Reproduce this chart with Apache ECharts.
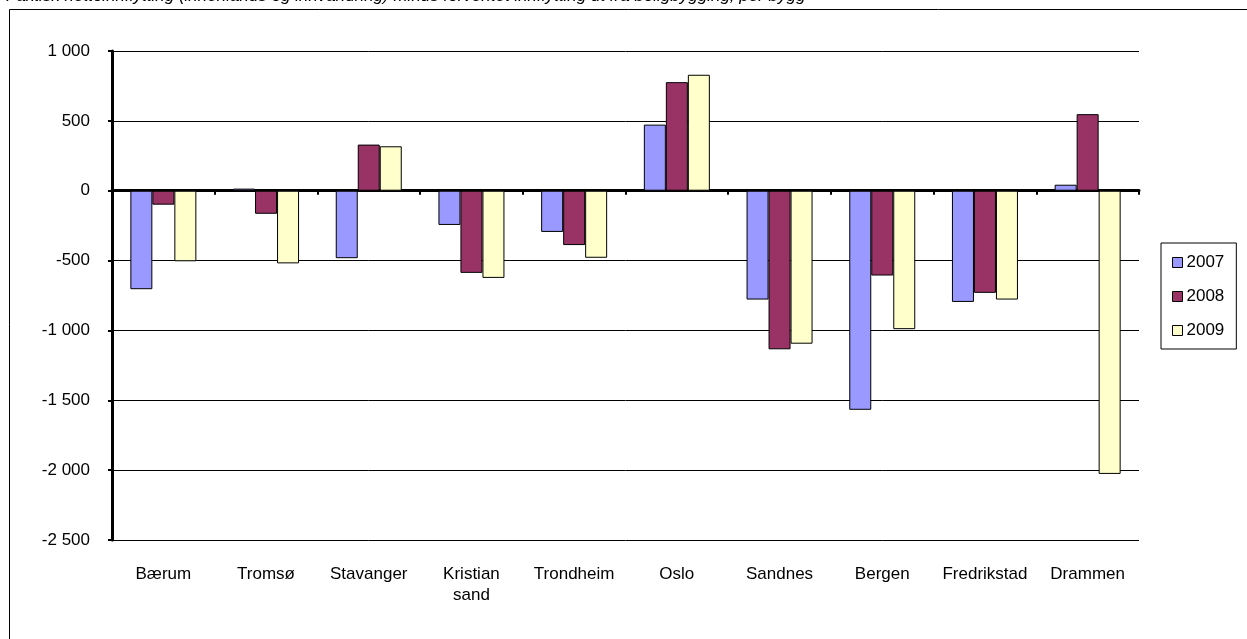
<!DOCTYPE html>
<html>
<head>
<meta charset="utf-8">
<script src="https://cdn.jsdelivr.net/npm/echarts@6/dist/echarts.min.js"></script>
<style>
html,body{margin:0;padding:0;background:#fff;}
#chart{width:1247px;height:639px;}
</style>
</head>
<body>
<div id="chart"></div>
<script>
const categories = ['Bærum','Tromsø','Stavanger','Kristian\nsand','Trondheim','Oslo','Sandnes','Bergen','Fredrikstad','Drammen'];
const seriesNames = ['2007','2008','2009'];
const values2007 = [-705, 15, -483, -245, -295, 473, -779, -1568, -796, 43];
const values2008 = [-100, -165, 330, -588, -389, 777, -1135, -607, -731, 548];
const values2009 = [-505, -520, 318, -624, -480, 830, -1095, -991, -779, -2027];
const seriesColors = ['#9999FF', '#993366', '#FFFFCC'];
const yTicks = { min: -2500, max: 1000, interval: 500 };
const clippedTitle = 'Faktisk nettoinnflytting (innenlands og innvandring) minus forventet innflytting ut fra boligbygging, per bygg';

const fmt = v => {
  const s = Math.abs(v).toString();
  const t = s.length > 3 ? s.slice(0, s.length - 3) + ' ' + s.slice(-3) : s;
  return (v < 0 ? '-' : '') + t;
};

const font = "'Liberation Sans', Arial, sans-serif";
const chart = echarts.init(document.getElementById('chart'));
const allValues = [values2007, values2008, values2009];

chart.setOption({
  animation: false,
  backgroundColor: '#fff',
  textStyle: { fontFamily: font },
  graphic: [
    { type: 'rect', shape: { x: 9.5, y: 9.5, width: 1400, height: 800 }, style: { fill: 'none', stroke: '#000', lineWidth: 1 }, z: -1 },
    { type: 'text', left: 6, top: -12, style: { text: clippedTitle, font: 'italic 17px ' + font, fill: '#000' } }
  ],
  grid: { left: 112, right: 108, top: 51, bottom: 99, containLabel: false },
  legend: {
    orient: 'vertical',
    left: 1161,
    top: 243,
    padding: [11, 12, 10, 11],
    itemGap: 17,
    itemWidth: 10,
    itemHeight: 10,
    borderColor: '#000',
    borderWidth: 1,
    icon: 'rect',
    itemStyle: { borderColor: '#000', borderWidth: 1 },
    textStyle: { fontSize: 17, color: '#000', fontFamily: font, padding: [0, 0, 0, -1] },
    data: seriesNames
  },
  xAxis: [
    {
      type: 'category',
      data: categories,
      axisLine: { onZero: true, lineStyle: { color: '#000', width: 3 } },
      axisTick: { show: true, length: 4, lineStyle: { color: '#000', width: 2 } },
      axisLabel: { show: false },
      splitLine: { show: false }
    },
    {
      type: 'category',
      data: categories,
      position: 'bottom',
      axisLine: { show: false, onZero: false },
      axisTick: { show: false },
      axisLabel: { show: true, interval: 0, margin: 24, fontSize: 17, color: '#000', fontFamily: font, lineHeight: 21 },
      splitLine: { show: false }
    }
  ],
  yAxis: {
    type: 'value',
    min: yTicks.min,
    max: yTicks.max,
    interval: yTicks.interval,
    axisLine: { show: true, lineStyle: { color: '#000', width: 3 } },
    axisTick: { show: true, length: 4, lineStyle: { color: '#000', width: 2 } },
    axisLabel: { formatter: fmt, fontSize: 17, color: '#000', margin: 22, fontFamily: font },
    splitLine: { show: true, lineStyle: { color: '#000', width: 1 } }
  },
  series: seriesNames.map((name, i) => ({
    name: name,
    type: 'bar',
    xAxisIndex: 0,
    data: allValues[i],
    barWidth: 22,
    barGap: '0%',
    itemStyle: { color: seriesColors[i], borderColor: '#000', borderWidth: 1 }
  }))
});
</script>
</body>
</html>
